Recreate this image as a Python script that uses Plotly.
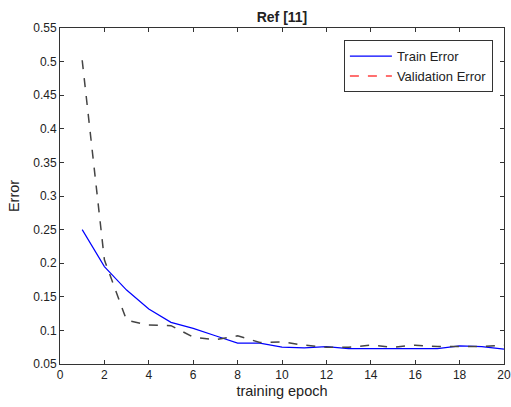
import plotly.graph_objects as go

epochs = list(range(1, 21))
trainError = [0.250, 0.195, 0.160, 0.132, 0.112, 0.103, 0.092, 0.081, 0.081, 0.075,
              0.074, 0.076, 0.073, 0.073, 0.072, 0.072, 0.073, 0.077, 0.076, 0.072]
valError = [0.502, 0.205, 0.115, 0.108, 0.107, 0.090, 0.086, 0.092, 0.082, 0.083,
            0.078, 0.075, 0.075, 0.078, 0.075, 0.078, 0.076, 0.076, 0.076, 0.078]

yTicks = [0.05, 0.1, 0.15, 0.2, 0.25, 0.3, 0.35, 0.4, 0.45, 0.5, 0.55]
yTickText = ['0.05', '0.1', '0.15', '0.2', '0.25', '0.3', '0.35', '0.4', '0.45', '0.5', '0.55']
xTicks = list(range(0, 21, 2))

fig = go.Figure()
fig.add_trace(go.Scatter(x=epochs, y=trainError, mode='lines', name='Train Error',
                         line=dict(color='#0000ff', width=1.2)))
# 그래프 선은 회색, 범례는 빨간 점선
fig.add_trace(go.Scatter(x=epochs, y=valError, mode='lines', showlegend=False,
                         line=dict(color='#444444', width=1.5, dash='dash')))
fig.add_trace(go.Scatter(x=[None], y=[None], mode='lines', name='Validation Error',
                         line=dict(color='#ff4040', width=1.5, dash='dash')))

axisStyle = dict(showline=True, linecolor='#333333', linewidth=1, mirror='ticks',
                 ticks='inside', ticklen=4, tickcolor='#333333', showgrid=False,
                 zeroline=False, automargin=False, ticklabeloverflow='allow',
                 tickfont=dict(size=12, color='#222222'))

fig.update_layout(
    width=511, height=407,
    paper_bgcolor='white', plot_bgcolor='white',
    font=dict(family='Liberation Sans, Arial', color='#222222'),
    margin=dict(l=60, r=7, t=28, b=43),
    title=dict(text='<b>Ref [11]</b>', x=0.5, xanchor='center', xref='paper',
               y=0.958, yanchor='middle', font=dict(size=14)),
    xaxis=dict(range=[0, 20], tickvals=xTicks,
               title=dict(text='training epoch', font=dict(size=14.5), standoff=4), **axisStyle),
    yaxis=dict(range=[0.05, 0.55], tickvals=yTicks, ticktext=yTickText,
               title=dict(text='Error', font=dict(size=14.5), standoff=10), **axisStyle),
    legend=dict(x=0.975, y=0.964, xanchor='right', yanchor='top',
                bordercolor='#333333', borderwidth=1, bgcolor='white',
                font=dict(size=13), tracegroupgap=0, itemwidth=42),
    showlegend=True,
)

# body 기본 여백 제거 (스크롤바로 잘리는 것 방지)
fig.write_html("out.html", config={'displayModeBar': False},
               post_script="document.body.style.margin='0';")
